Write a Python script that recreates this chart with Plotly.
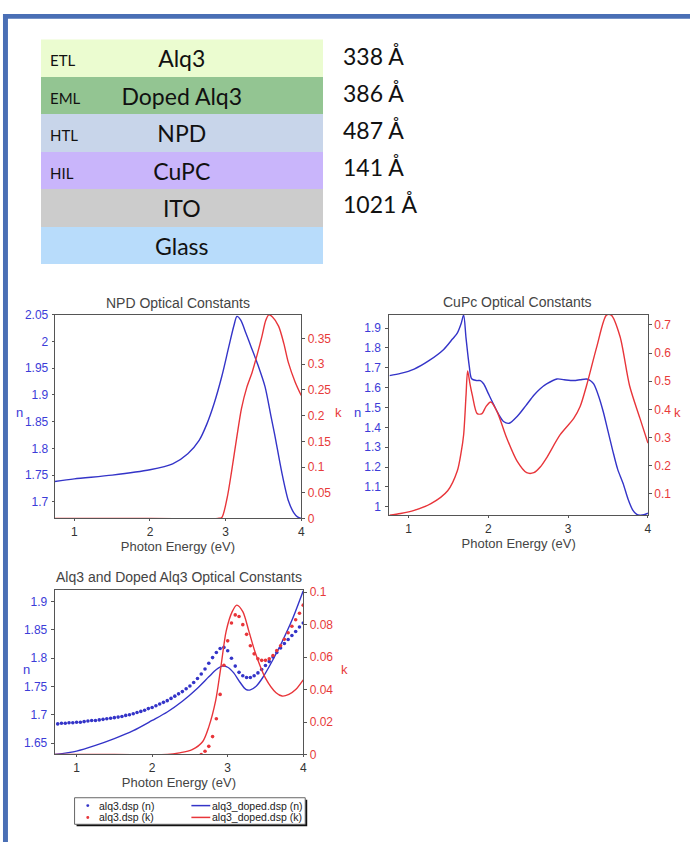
import plotly.graph_objects as go

W, H = 694, 849
def px(x): return x / W
def py(y): return 1 - y / H

# ---------------- data ----------------
layers = ["Alq3", "Doped Alq3", "NPD", "CuPC", "ITO", "Glass"]
roles = ["ETL", "EML", "HTL", "HIL", "", ""]
thickness = ["338 Å", "386 Å", "487 Å", "141 Å", "1021 Å", ""]
layer_colors = ["#ebfcd0", "#93c592", "#c8d5ea", "#c9b5fb", "#cccccc", "#b8dcfb"]

# NPD
npd_n_E = [0.74, 1.0, 1.5, 2.0, 2.3, 2.5, 2.65, 2.75, 2.85, 2.95, 3.04, 3.11, 3.15, 3.20, 3.27, 3.34,
           3.43, 3.52, 3.60, 3.65, 3.74, 3.83, 3.90, 3.95, 4.0]
npd_n = [1.738, 1.743, 1.750, 1.760, 1.771, 1.790, 1.815, 1.845, 1.885, 1.935, 1.989, 2.030, 2.047,
         2.040, 2.015, 1.989, 1.955, 1.916, 1.860, 1.825, 1.757, 1.702, 1.680, 1.672, 1.669]
npd_k_E = [0.74, 2.0, 2.9, 2.95, 3.02, 3.08, 3.15, 3.21, 3.28, 3.35, 3.42, 3.48, 3.53, 3.57, 3.62,
           3.70, 3.77, 3.83, 3.92, 4.0]
npd_k = [0, 0, 0, 0.002, 0.04, 0.0925, 0.16, 0.214, 0.255, 0.284, 0.32, 0.354, 0.385, 0.396, 0.392,
         0.374, 0.34, 0.303, 0.265, 0.239]

# CuPc
cupc_n_E = [0.76, 0.9, 1.07, 1.25, 1.44, 1.55, 1.61, 1.66, 1.69, 1.72, 1.76, 1.79, 1.85, 1.90, 1.94,
            2.0, 2.07, 2.13, 2.19, 2.26, 2.36, 2.47, 2.57, 2.65, 2.73, 2.86, 2.95, 3.07, 3.15, 3.23,
            3.28, 3.32, 3.38, 3.44, 3.50, 3.56, 3.62, 3.69, 3.75, 3.81, 3.86, 3.90, 3.95, 4.0]
cupc_n = [1.661, 1.672, 1.694, 1.735, 1.793, 1.845, 1.875, 1.925, 1.966, 1.85, 1.71, 1.645, 1.636,
          1.636, 1.62, 1.57, 1.512, 1.465, 1.43, 1.421, 1.455, 1.51, 1.562, 1.595, 1.619, 1.644, 1.64,
          1.636, 1.640, 1.644, 1.635, 1.619, 1.56, 1.479, 1.38, 1.281, 1.19, 1.116, 1.04, 0.984,
          0.962, 0.958, 0.960, 0.968]
cupc_k_E = [0.76, 0.9, 1.07, 1.28, 1.49, 1.61, 1.66, 1.69, 1.72, 1.74, 1.77, 1.80, 1.86, 1.92, 1.97,
            2.03, 2.11, 2.23, 2.36, 2.48, 2.57, 2.65, 2.73, 2.90, 3.07, 3.15, 3.23, 3.36, 3.48, 3.54,
            3.65, 3.77, 3.90, 4.0]
cupc_k = [0.024, 0.03, 0.041, 0.065, 0.111, 0.181, 0.25, 0.31, 0.45, 0.537, 0.49, 0.449, 0.385, 0.385,
          0.41, 0.426, 0.391, 0.298, 0.216, 0.175, 0.175, 0.195, 0.228, 0.31, 0.368, 0.41, 0.484,
          0.624, 0.735, 0.735, 0.659, 0.484, 0.368, 0.28]

# Alq3 (dots) and doped Alq3 (lines)
alq3_n_E = [0.75, 0.80, 0.85, 0.90, 0.95, 1.00, 1.05, 1.10, 1.15, 1.20, 1.25, 1.30, 1.35, 1.40, 1.45,
            1.50, 1.55, 1.60, 1.65, 1.70, 1.75, 1.80, 1.85, 1.90, 1.95, 2.00, 2.05, 2.10, 2.15, 2.20,
            2.25, 2.30, 2.35, 2.40, 2.45, 2.50, 2.55, 2.60, 2.65, 2.70, 2.75, 2.80, 2.85, 2.90, 2.95,
            3.00, 3.05, 3.10, 3.15, 3.20, 3.25, 3.30, 3.35, 3.40, 3.45, 3.50, 3.55, 3.60, 3.65, 3.70,
            3.75, 3.80, 3.85, 3.90, 3.95, 4.00]
alq3_n = [1.684, 1.685, 1.685, 1.686, 1.686, 1.687, 1.687, 1.688, 1.689, 1.690, 1.690, 1.691, 1.692,
          1.693, 1.694, 1.695, 1.696, 1.697, 1.699, 1.700, 1.702, 1.704, 1.706, 1.708, 1.711, 1.713,
          1.716, 1.719, 1.722, 1.725, 1.729, 1.733, 1.737, 1.741, 1.746, 1.751, 1.757, 1.764, 1.772,
          1.781, 1.791, 1.801, 1.810, 1.817, 1.819, 1.813, 1.800, 1.786, 1.775, 1.769, 1.766, 1.766,
          1.769, 1.774, 1.780, 1.787, 1.794, 1.802, 1.810, 1.818, 1.826, 1.833, 1.840, 1.847, 1.855,
          1.862]
alq3_k_E = [2.65, 2.70, 2.75, 2.80, 2.85, 2.90, 2.95, 3.00, 3.05, 3.10, 3.15, 3.20, 3.25, 3.30, 3.35,
            3.40, 3.45, 3.50, 3.55, 3.60, 3.65, 3.70, 3.75, 3.80, 3.85, 3.90, 3.95, 4.00]
alq3_k = [0.000, 0.002, 0.005, 0.011, 0.022, 0.037, 0.055, 0.070, 0.081, 0.086, 0.085, 0.080, 0.074,
          0.067, 0.062, 0.059, 0.058, 0.058, 0.059, 0.061, 0.064, 0.067, 0.071, 0.075, 0.079, 0.083,
          0.087, 0.092]
doped_n_E = [0.71, 1.0, 1.25, 1.5, 1.75, 2.0, 2.2, 2.4, 2.6, 2.75, 2.85, 2.93, 3.0, 3.08, 3.16, 3.24,
             3.30, 3.38, 3.46, 3.59, 3.72, 3.86, 4.0]
doped_n = [1.630, 1.636, 1.646, 1.658, 1.672, 1.690, 1.705, 1.724, 1.747, 1.767, 1.780, 1.786, 1.784,
           1.774, 1.758, 1.745, 1.744, 1.751, 1.765, 1.795, 1.829, 1.870, 1.919]
doped_k_E = [0.71, 1.5, 2.2, 2.36, 2.53, 2.67, 2.75, 2.84, 2.91, 2.98, 3.06, 3.12, 3.20, 3.28, 3.37,
             3.50, 3.64, 3.72, 3.81, 3.90, 4.0]
doped_k = [0, 0, 0, 0.001, 0.003, 0.008, 0.017, 0.033, 0.054, 0.076, 0.088, 0.092, 0.088, 0.076,
           0.062, 0.047, 0.038, 0.036, 0.037, 0.040, 0.046]

legend_labels = ["alq3.dsp (n)", "alq3.dsp (k)", "alq3_doped.dsp (n)", "alq3_doped.dsp (k)"]

# ---------------- style ----------------
BLUE = "#3434c8"
RED = "#e8353a"
BLUE_T = "#3c3cd8"
RED_T = "#e83a3a"
AX = "#555555"
FONT = "Liberation Sans"
TFONT = "Lato"

fig = go.Figure()

def line(x, y, xa, ya, color, shape="spline"):
    fig.add_trace(go.Scatter(x=x, y=y, xaxis=xa, yaxis=ya, mode="lines",
                             line=dict(color=color, width=1.4, shape=shape, smoothing=0.8),
                             showlegend=False, cliponaxis=True))

def dots(x, y, xa, ya, color):
    fig.add_trace(go.Scatter(x=x, y=y, xaxis=xa, yaxis=ya, mode="markers",
                             marker=dict(color=color, size=3.6), showlegend=False))

# NPD
line(npd_n_E, npd_n, "x", "y", BLUE)
line(npd_k_E, npd_k, "x", "y2", RED)
# CuPc
line(cupc_n_E, cupc_n, "x2", "y3", BLUE)
line(cupc_k_E, cupc_k, "x2", "y4", RED)
# Alq3
line(doped_n_E, doped_n, "x3", "y5", BLUE)
line(doped_k_E, doped_k, "x3", "y6", RED)
dots(alq3_n_E, alq3_n, "x3", "y5", BLUE)
dots(alq3_k_E, alq3_k, "x3", "y6", RED)

# layer table as bar chart
fig.add_trace(go.Bar(y=layers, x=[1] * len(layers), orientation="h", xaxis="x4", yaxis="y7",
                     marker=dict(color=layer_colors, line=dict(width=0)),
                     text=layers, textposition="inside", insidetextanchor="middle",
                     textfont=dict(family=TFONT, size=23, color="#111111"),
                     showlegend=False, hoverinfo="skip", width=1))

def xax(domain, rng, anchor):
    return dict(domain=domain, range=rng, anchor=anchor, tickvals=[1, 2, 3, 4],
                showline=True, linecolor=AX, linewidth=1, mirror=True, showgrid=False,
                zeroline=False, ticks="outside", ticklen=2, tickcolor=AX,
                tickfont=dict(family=FONT, size=12, color="#333333"),
                title=dict(text="Photon Energy (eV)", font=dict(family=FONT, size=13, color="#444444"),
                           standoff=2))

def yl(domain, rng, anchor, dtick, tick0, standoff_lab=4, tlen=3):
    return dict(domain=domain, range=rng, anchor=anchor, dtick=dtick, tick0=tick0,
                showline=True, linecolor=AX, linewidth=1, showgrid=False, zeroline=False,
                ticks="outside", ticklen=tlen, tickcolor=AX, ticklabelstandoff=standoff_lab,
                tickfont=dict(family=FONT, size=12, color=BLUE_T))

def yr(over, rng, anchor, dtick, tick0):
    return dict(overlaying=over, side="right", range=rng, anchor=anchor, dtick=dtick, tick0=tick0,
                showline=True, linecolor=AX, linewidth=1, showgrid=False, zeroline=False,
                ticks="outside", ticklen=3, tickcolor=AX,
                tickfont=dict(family=FONT, size=12, color=RED_T))

d1x = [px(55), px(303)]; d1y = [py(520), py(313)]
d2x = [px(391.7), px(651.7)]; d2y = [py(516.7), py(313)]
d3x = [px(55), px(305)]; d3y = [py(760), py(593)]

fig.update_layout(
    width=W, height=H, margin=dict(l=0, r=0, t=0, b=0),
    paper_bgcolor="white", plot_bgcolor="white", bargap=0,
    xaxis=xax(d1x, [0.74, 4.0], "y"),
    yaxis=yl(d1y, [1.669, 2.05], "x", 0.05, 1.7, 1, 2),
    yaxis2=yr("y", [0, 0.396], "x", 0.05, 0),
    xaxis2=xax(d2x, [0.76, 4.0], "y3"),
    yaxis3=yl(d2y, [0.958, 1.967], "x2", 0.1, 1.0, 2),
    yaxis4=yr("y3", [0.024, 0.736], "x2", 0.1, 0.1),
    xaxis3=xax(d3x, [0.71, 4.0], "y5"),
    yaxis5=yl(d3y, [1.63, 1.92], "x3", 0.05, 1.65, 1),
    yaxis6=yr("y5", [0, 0.1012], "x3", 0.02, 0),
    xaxis4=dict(domain=[px(41), px(325)], range=[0, 1], anchor="y7", visible=False, fixedrange=True),
    yaxis7=dict(domain=[py(262), py(33)], anchor="x4", visible=False, autorange="reversed",
                type="category", fixedrange=True),
)

ann = []
# table annotations
row_top, row_h = 33, (262 - 33) / len(layers)
for i, (lay, r, t) in enumerate(zip(layers, roles, thickness)):
    if r:
        ann.append(dict(x=0.025, y=lay, xref="x4", yref="y7", text=r, showarrow=False,
                        xanchor="left", yanchor="middle", yshift=-2,
                        font=dict(family=TFONT, size=15, color="#111111")))
    if t:
        ann.append(dict(x=px(343), y=py(row_top + row_h * (i + 0.5) - 2 - 0.5 * i), xref="paper",
                        yref="paper", text=t, showarrow=False, xanchor="left", yanchor="middle",
                        font=dict(family=TFONT, size=23, color="#111111")))
# subplot titles
for txt, x, y in [("NPD Optical Constants", 179.5, 301), ("CuPc Optical Constants", 520, 300),
                  ("Alq3 and Doped Alq3 Optical Constants", 180, 580)]:
    ann.append(dict(x=px(x), y=py(y), xref="paper", yref="paper", text=txt, showarrow=False,
                    xanchor="center", yanchor="middle", font=dict(family=FONT, size=14, color="#444444")))
# horizontal n / k axis labels
for txt, x, y, col in [("n", 20, 412, BLUE_T), ("k", 340, 412, RED_T),
                       ("n", 360, 412, BLUE_T), ("k", 681, 412, RED_T),
                       ("n", 27, 674, BLUE_T), ("k", 346, 674, RED_T)]:
    ann.append(dict(x=px(x), y=py(y), xref="paper", yref="paper", text=txt, showarrow=False,
                    xanchor="center", yanchor="middle", font=dict(family=FONT, size=13, color=col)))

# legend (manual box)
lx0, lx1, ly0, ly1 = 75, 307, 804, 831
shapes = [
    dict(type="rect", xref="paper", yref="paper", x0=px(3), x1=px(694), y0=py(12), y1=py(7),
         fillcolor="#4a6fb5", line=dict(width=0)),
    dict(type="rect", xref="paper", yref="paper", x0=px(3), x1=px(8), y0=py(849), y1=py(7),
         fillcolor="#4a6fb5", line=dict(width=0)),
    dict(type="rect", xref="paper", yref="paper", x0=px(lx0 + 2), x1=px(lx1 + 2), y0=py(ly1 + 2),
         y1=py(ly0 + 2), fillcolor="#111111", line=dict(width=0)),
    dict(type="rect", xref="paper", yref="paper", x0=px(lx0), x1=px(lx1), y0=py(ly1), y1=py(ly0),
         fillcolor="white", line=dict(color="#666666", width=1)),
]
rows = [812, 824]
for i, (lab, col) in enumerate(zip(legend_labels[:2], [BLUE, RED])):
    shapes.append(dict(type="circle", xref="paper", yref="paper", x0=px(86.8), x1=px(89.8),
                       y0=py(rows[i] + 1.5), y1=py(rows[i] - 1.5), fillcolor=col, line=dict(width=0)))
    ann.append(dict(x=px(98), y=py(rows[i]), xref="paper", yref="paper", text=lab, showarrow=False,
                    xanchor="left", yanchor="middle", font=dict(family=FONT, size=10.5, color="#222222")))
for i, (lab, col) in enumerate(zip(legend_labels[2:], [BLUE, RED])):
    shapes.append(dict(type="line", xref="paper", yref="paper", x0=px(192.5), x1=px(211.5),
                       y0=py(rows[i]), y1=py(rows[i]), line=dict(color=col, width=1.5)))
    ann.append(dict(x=px(211.5), y=py(rows[i]), xref="paper", yref="paper", text=lab, showarrow=False,
                    xanchor="left", yanchor="middle", font=dict(family=FONT, size=10.5, color="#222222")))

fig.update_layout(annotations=ann, shapes=shapes)
fig.write_html("out.html")
